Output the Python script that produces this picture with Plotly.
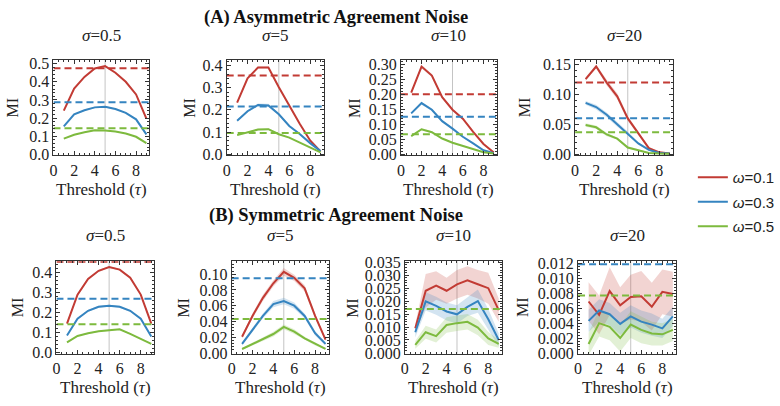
import plotly.graph_objects as go

# ---------------- data ----------------
TAU = [1, 2, 3, 4, 5, 6, 7, 8, 9]
SIGMA_LABELS = ["0.5", "5", "10", "20"]
OMEGA_LABELS = ["0.1", "0.3", "0.5"]
REF_TAU = 5

# (A) Asymmetric agreement noise
A_S05_W01 = [0.241, 0.362, 0.427, 0.473, 0.486, 0.450, 0.400, 0.330, 0.197]
A_S05_W03 = [0.154, 0.220, 0.243, 0.259, 0.262, 0.250, 0.229, 0.193, 0.110]
A_S05_W05 = [0.087, 0.108, 0.122, 0.133, 0.131, 0.126, 0.115, 0.097, 0.062]
A_S05_BASE = [0.474, 0.287, 0.144]
A_S05_ERR01 = [0.002, 0.002, 0.002, 0.002, 0.002, 0.002, 0.002, 0.002, 0.002]
A_S05_ERR03 = [0.003, 0.003, 0.004, 0.004, 0.004, 0.004, 0.003, 0.003, 0.003]
A_S05_ERR05 = [0.002, 0.002, 0.002, 0.002, 0.002, 0.002, 0.002, 0.002, 0.002]

A_S5_W01 = [0.233, 0.342, 0.391, 0.391, 0.302, 0.216, 0.137, 0.062, 0.012]
A_S5_W03 = [0.151, 0.194, 0.222, 0.220, 0.180, 0.127, 0.091, 0.050, 0.014]
A_S5_W05 = [0.086, 0.098, 0.111, 0.113, 0.090, 0.075, 0.053, 0.032, 0.008]
A_S5_BASE = [0.355, 0.215, 0.096]
A_S5_ERR01 = [0.003, 0.003, 0.004, 0.004, 0.003, 0.003, 0.002, 0.002, 0.001]
A_S5_ERR03 = [0.004, 0.005, 0.007, 0.007, 0.005, 0.004, 0.003, 0.002, 0.001]
A_S5_ERR05 = [0.002, 0.003, 0.004, 0.004, 0.003, 0.002, 0.002, 0.001, 0.001]

A_S10_W01 = [0.205, 0.292, 0.262, 0.190, 0.148, 0.118, 0.074, 0.034, 0.005]
A_S10_W03 = [0.136, 0.170, 0.148, 0.110, 0.085, 0.058, 0.036, 0.013, 0.003]
A_S10_W05 = [0.060, 0.083, 0.073, 0.052, 0.038, 0.027, 0.015, 0.006, 0.002]
A_S10_BASE = [0.200, 0.125, 0.066]
A_S10_ERR01 = [0.003, 0.006, 0.005, 0.004, 0.003, 0.003, 0.002, 0.002, 0.001]
A_S10_ERR03 = [0.003, 0.005, 0.004, 0.003, 0.003, 0.002, 0.002, 0.001, 0.001]
A_S10_ERR05 = [0.002, 0.003, 0.003, 0.002, 0.002, 0.002, 0.001, 0.001, 0.001]

A_S20_W01 = [0.126, 0.147, 0.120, 0.097, 0.060, 0.034, 0.010, 0.003, 0.001]
A_S20_W03 = [0.086, 0.079, 0.066, 0.050, 0.035, 0.018, 0.007, 0.002, 0.001]
A_S20_W05 = [0.049, 0.045, 0.033, 0.026, 0.011, 0.007, 0.002, 0.001, 0.0005]
A_S20_BASE = [0.120, 0.060, 0.0365]
A_S20_ERR01 = [0.003, 0.003, 0.005, 0.005, 0.004, 0.003, 0.002, 0.001, 0.001]
A_S20_ERR03 = [0.003, 0.004, 0.004, 0.004, 0.003, 0.002, 0.001, 0.001, 0.001]
A_S20_ERR05 = [0.003, 0.003, 0.003, 0.002, 0.002, 0.001, 0.001, 0.001, 0.0005]

# (B) Symmetric agreement noise
B_S05_W01 = [0.146, 0.291, 0.369, 0.410, 0.429, 0.416, 0.376, 0.291, 0.146]
B_S05_W03 = [0.086, 0.170, 0.210, 0.230, 0.235, 0.230, 0.210, 0.170, 0.081]
B_S05_W05 = [0.052, 0.084, 0.097, 0.107, 0.112, 0.117, 0.094, 0.068, 0.044]
B_S05_BASE = [0.456, 0.270, 0.143]
B_S05_ERR01 = [0.003, 0.003, 0.004, 0.004, 0.004, 0.004, 0.004, 0.003, 0.003]
B_S05_ERR03 = [0.003, 0.004, 0.005, 0.005, 0.005, 0.005, 0.005, 0.004, 0.003]
B_S05_ERR05 = [0.002, 0.002, 0.003, 0.003, 0.003, 0.003, 0.003, 0.002, 0.002]

B_S5_W01 = [0.0206, 0.047, 0.070, 0.0885, 0.103, 0.0955, 0.082, 0.047, 0.017]
B_S5_W03 = [0.0115, 0.029, 0.047, 0.062, 0.066, 0.060, 0.047, 0.025, 0.0115]
B_S5_W05 = [0.005, 0.011, 0.017, 0.024, 0.033, 0.027, 0.0185, 0.0115, 0.005]
B_S5_BASE = [None, 0.095, 0.043]
B_S5_ERR01 = [0.002, 0.003, 0.004, 0.004, 0.005, 0.004, 0.004, 0.003, 0.002]
B_S5_ERR03 = [0.002, 0.003, 0.003, 0.004, 0.004, 0.004, 0.003, 0.003, 0.002]
B_S5_ERR05 = [0.001, 0.002, 0.002, 0.003, 0.003, 0.003, 0.002, 0.002, 0.001]

B_S10_W01 = [0.0095, 0.0240, 0.0260, 0.0240, 0.0265, 0.0280, 0.0265, 0.0250, 0.0165]
B_S10_W03 = [0.0080, 0.0199, 0.0182, 0.0160, 0.0149, 0.0178, 0.0200, 0.0130, 0.0050]
B_S10_W05 = [0.0031, 0.0080, 0.0065, 0.0108, 0.0115, 0.0120, 0.0098, 0.0056, 0.0035]
B_S10_BASE = [None, None, 0.017]
B_S10_ERR01 = [0.0015, 0.0065, 0.0055, 0.0050, 0.0055, 0.0055, 0.0055, 0.0060, 0.0045]
B_S10_ERR03 = [0.0020, 0.0035, 0.0035, 0.0035, 0.0035, 0.0035, 0.0045, 0.0040, 0.0025]
B_S10_ERR05 = [0.0015, 0.0025, 0.0025, 0.0030, 0.0030, 0.0030, 0.0030, 0.0025, 0.0015]

B_S20_W01 = [0.0069, 0.0051, 0.0083, 0.0064, 0.0075, 0.0076, 0.0062, 0.0082, 0.0079]
B_S20_W03 = [0.0043, 0.0057, 0.0052, 0.0039, 0.0049, 0.0042, 0.0038, 0.0033, 0.0049]
B_S20_W05 = [0.0012, 0.0040, 0.0035, 0.0020, 0.0038, 0.0031, 0.0026, 0.0025, 0.0031]
B_S20_BASE = [None, 0.0119, 0.0077]
B_S20_ERR01 = [0.0026, 0.0026, 0.0032, 0.0024, 0.0030, 0.0034, 0.0032, 0.0030, 0.0030]
B_S20_ERR03 = [0.0015, 0.0015, 0.0015, 0.0015, 0.0015, 0.0015, 0.0015, 0.0013, 0.0013]
B_S20_ERR05 = [0.0015, 0.0018, 0.0018, 0.0018, 0.0018, 0.0018, 0.0016, 0.0015, 0.0015]

# y-axis settings per panel: (range, dtick, tickformat)
A_YAXES = [([-0.005, 0.52], 0.1, ".1f"), ([-0.005, 0.425], 0.1, ".1f"),
           ([-0.004, 0.314], 0.05, ".2f"), ([-0.002, 0.158], 0.05, ".2f")]
B_YAXES = [([-0.005, 0.458], 0.1, ".1f"), ([-0.001, 0.1165], 0.02, ".2f"),
           ([-0.0003, 0.0354], 0.005, ".3f"), ([-0.0001, 0.0123], 0.002, ".3f")]
X_RANGE = [0, 9.3]
X_TICKS = [0, 2, 4, 6, 8]

COLORS = ["#c23b34", "#3584c0", "#7dba3e"]
BAND_COLORS = ["rgba(194,59,52,0.22)", "rgba(53,132,192,0.22)", "rgba(125,186,62,0.22)"]

PANELS = [
    # (row, col, series, errs, base)
    (0, 0, [A_S05_W01, A_S05_W03, A_S05_W05], [A_S05_ERR01, A_S05_ERR03, A_S05_ERR05], A_S05_BASE),
    (0, 1, [A_S5_W01, A_S5_W03, A_S5_W05], [A_S5_ERR01, A_S5_ERR03, A_S5_ERR05], A_S5_BASE),
    (0, 2, [A_S10_W01, A_S10_W03, A_S10_W05], [A_S10_ERR01, A_S10_ERR03, A_S10_ERR05], A_S10_BASE),
    (0, 3, [A_S20_W01, A_S20_W03, A_S20_W05], [A_S20_ERR01, A_S20_ERR03, A_S20_ERR05], A_S20_BASE),
    (1, 0, [B_S05_W01, B_S05_W03, B_S05_W05], [B_S05_ERR01, B_S05_ERR03, B_S05_ERR05], B_S05_BASE),
    (1, 1, [B_S5_W01, B_S5_W03, B_S5_W05], [B_S5_ERR01, B_S5_ERR03, B_S5_ERR05], B_S5_BASE),
    (1, 2, [B_S10_W01, B_S10_W03, B_S10_W05], [B_S10_ERR01, B_S10_ERR03, B_S10_ERR05], B_S10_BASE),
    (1, 3, [B_S20_W01, B_S20_W03, B_S20_W05], [B_S20_ERR01, B_S20_ERR03, B_S20_ERR05], B_S20_BASE),
]

# ---------------- layout geometry (pixels) ----------------
W, H = 780, 406
ROW_Y = [(55, 154), (264, 360)]
COL_X = [[(50, 147), (225, 323), (401, 498), (577, 676)],
         [(53, 152), (230, 328), (405, 503), (580, 679)]]
MI_X = [[9, 188, 354, 526], [14, 181, 352, 524]]
SIGMA_Y = [30, 237]
XLABEL_Y = [190, 395]
TITLES = ["<b>(A) Asymmetric Agreement Noise</b>", "<b>(B) Symmetric Agreement Noise</b>"]
TITLE_Y = [11, 217]

SERIF = "Liberation Serif, Times New Roman, serif"
SANS = "Liberation Sans, Arial, sans-serif"
INK = "#222222"


def px(x):
    return x / W


def py(y):
    return 1 - y / H


fig = go.Figure()
layout = dict(width=W, height=H, margin=dict(l=0, r=0, t=0, b=0),
              paper_bgcolor="white", plot_bgcolor="white", showlegend=True)
annotations = []
shapes = []

for idx, (row, col, series, errs, base) in enumerate(PANELS):
    n = idx + 1
    xa = "x" if n == 1 else f"x{n}"
    ya = "y" if n == 1 else f"y{n}"
    x0p, x1p = COL_X[row][col]
    y0p, y1p = ROW_Y[row]
    yr, ydt, yfmt = (A_YAXES if row == 0 else B_YAXES)[col]

    axis_common = dict(showline=True, linecolor="#333", linewidth=1, mirror="allticks",
                       ticks="inside", ticklen=4, tickwidth=1, tickcolor="#333",
                       showgrid=False, zeroline=False,
                       tickfont=dict(family=SERIF, size=16, color=INK))
    layout["xaxis" if n == 1 else f"xaxis{n}"] = dict(
        axis_common, domain=[px(x0p), px(x1p)], anchor=ya, range=X_RANGE,
        tickmode="array", tickvals=X_TICKS,
        minor=dict(ticks="inside", ticklen=2, tickcolor="#333", dtick=0.5, tick0=0))
    layout["yaxis" if n == 1 else f"yaxis{n}"] = dict(
        axis_common, domain=[py(y1p), py(y0p)], anchor=xa, range=yr,
        dtick=ydt, tick0=0, tickformat=yfmt,
        minor=dict(ticks="inside", ticklen=2, tickcolor="#333", dtick=ydt / 5, tick0=0))

    # reference vertical line at tau = 5
    shapes.append(dict(type="line", xref=xa, yref=f"{ya} domain", x0=REF_TAU, x1=REF_TAU,
                       y0=0, y1=1, line=dict(color="#c4c4c4", width=1), layer="below"))

    for k in range(3):
        vals = series[k]
        err = errs[k]
        upper = [v + e for v, e in zip(vals, err)]
        lower = [v - e for v, e in zip(vals, err)]
        fig.add_trace(go.Scatter(x=TAU, y=upper, xaxis=xa, yaxis=ya, mode="lines",
                                 line=dict(width=0), hoverinfo="skip", showlegend=False))
        fig.add_trace(go.Scatter(x=TAU, y=lower, xaxis=xa, yaxis=ya, mode="lines",
                                 line=dict(width=0), fill="tonexty", fillcolor=BAND_COLORS[k],
                                 hoverinfo="skip", showlegend=False))
    for k in range(3):
        fig.add_trace(go.Scatter(x=TAU, y=series[k], xaxis=xa, yaxis=ya, mode="lines",
                                 line=dict(color=COLORS[k], width=2),
                                 name=f"<i>ω</i>=" + OMEGA_LABELS[k], legendgroup=OMEGA_LABELS[k],
                                 showlegend=(n == 1)))
    for k in range(3):
        if base[k] is None:
            continue
        fig.add_trace(go.Scatter(x=X_RANGE, y=[base[k], base[k]], xaxis=xa, yaxis=ya,
                                 mode="lines", line=dict(color=COLORS[k], width=2, dash="7px,4px"),
                                 hoverinfo="skip", showlegend=False))

    cx = (x0p + x1p) / 2
    annotations.append(dict(text="<i>σ</i>=" + SIGMA_LABELS[col], x=px(cx), y=py(SIGMA_Y[row]),
                            xref="paper", yref="paper", xanchor="center", yanchor="middle",
                            showarrow=False, font=dict(family=SERIF, size=17, color=INK)))
    annotations.append(dict(text="Threshold (<i>τ</i>)", x=px(cx), y=py(XLABEL_Y[row]),
                            xref="paper", yref="paper", xanchor="center", yanchor="middle",
                            showarrow=False, font=dict(family=SERIF, size=17, color=INK)))
    annotations.append(dict(text="MI", x=px(MI_X[row][col]), y=py((y0p + y1p) / 2),
                            xref="paper", yref="paper", xanchor="center", yanchor="middle",
                            textangle=-90, showarrow=False,
                            font=dict(family=SERIF, size=16, color=INK)))

for r in range(2):
    annotations.append(dict(text=TITLES[r], x=px(335), y=py(TITLE_Y[r]), xref="paper", yref="paper",
                            xanchor="center", yanchor="middle", showarrow=False,
                            font=dict(family=SERIF, size=18.5, color="#111")))

layout["annotations"] = annotations
layout["shapes"] = shapes
layout["legend"] = dict(x=px(696), y=py(160), xanchor="left", yanchor="top",
                        bgcolor="rgba(0,0,0,0)", font=dict(family=SANS, size=15, color=INK),
                        tracegroupgap=2)
fig.update_layout(**layout)
fig.write_html("out.html", config={"displayModeBar": False},
               post_script="document.body.style.margin='0';document.body.style.overflow='hidden';")
